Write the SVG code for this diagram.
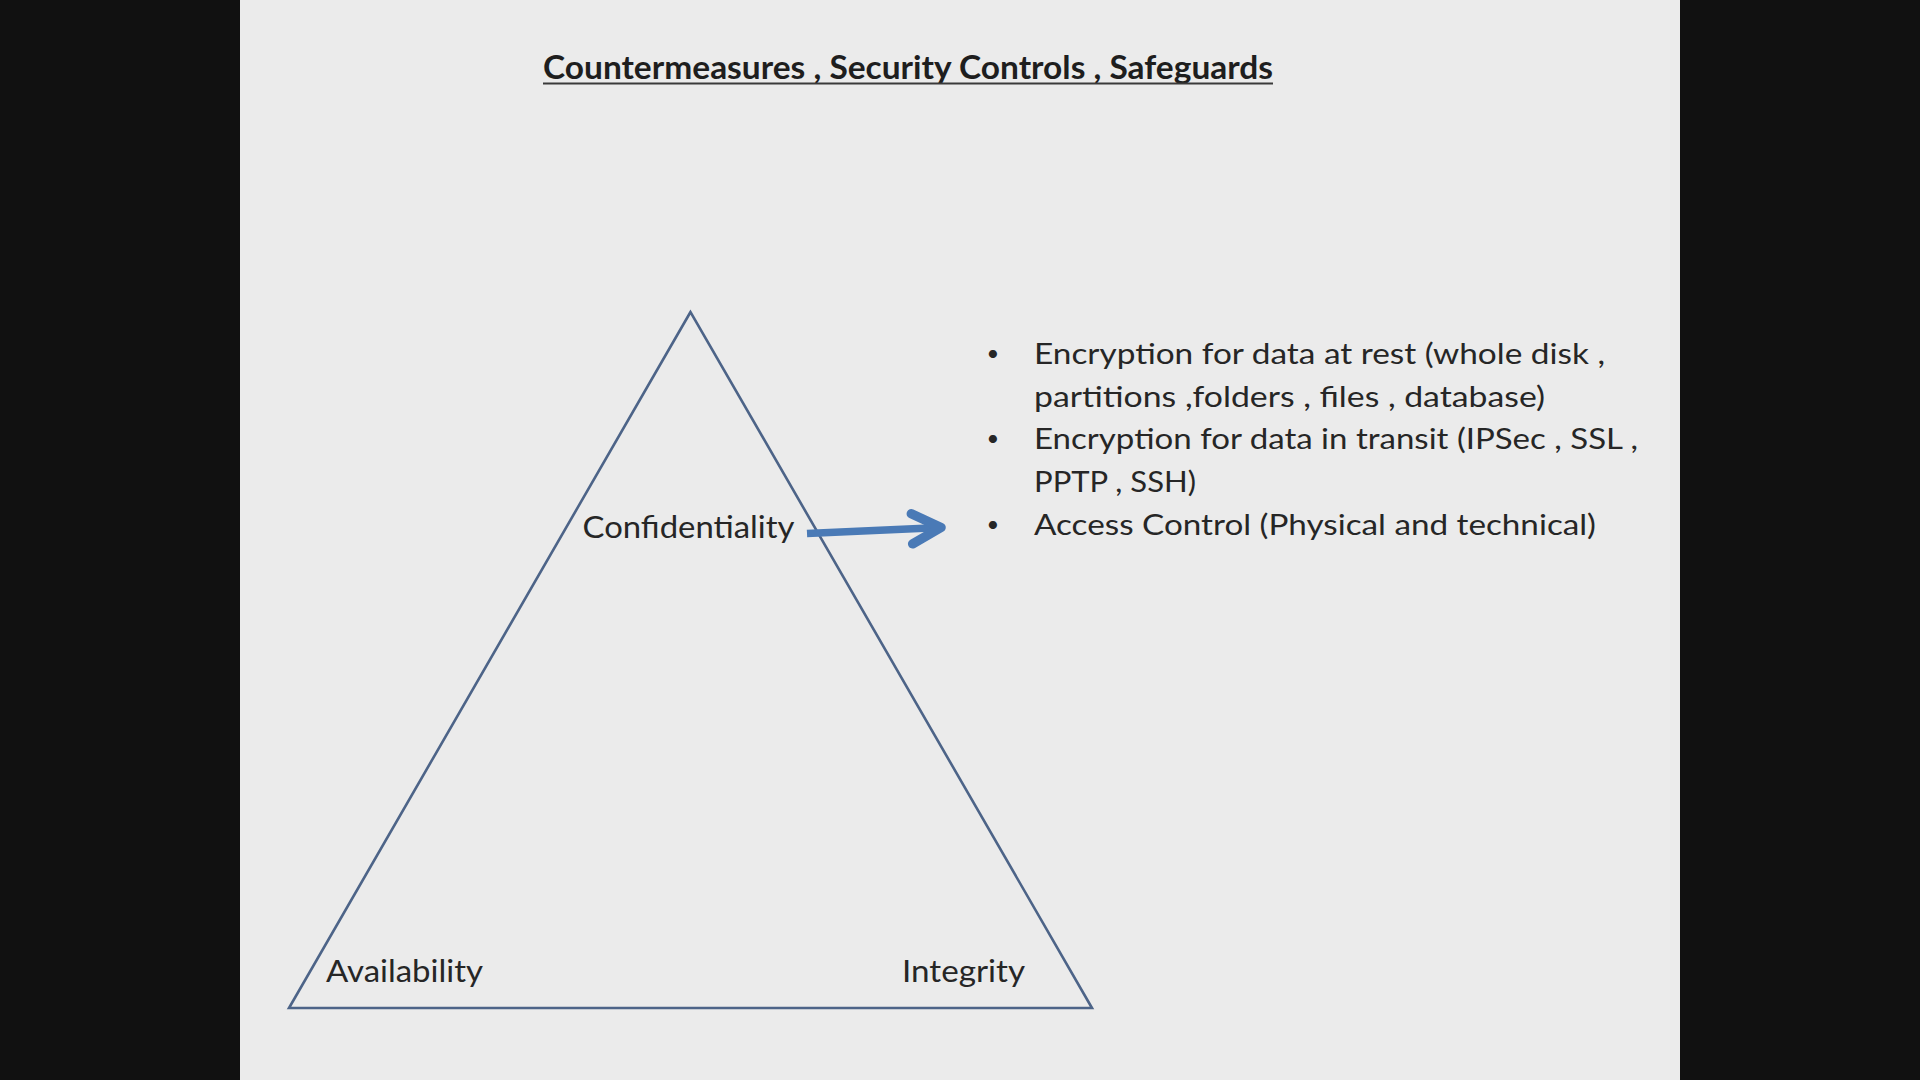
<svg xmlns="http://www.w3.org/2000/svg" width="1920" height="1080" viewBox="0 0 1920 1080">
  <defs>
    <style>
      .title { font-family: Lato, "Liberation Sans", sans-serif; font-weight: bold; font-size: 32.5px; fill: #1e1e1e; }
      .label { font-family: Lato, "Liberation Sans", sans-serif; font-size: 31.5px; fill: #262626; }
      .body { font-family: Lato, "Liberation Sans", sans-serif; font-size: 29px; fill: #262626; }
      .bullet { font-family: Lato, "Liberation Sans", sans-serif; font-size: 22px; fill: #262626; text-anchor: middle; }
      .tri { fill: none; stroke: #4d6488; stroke-width: 2.6; stroke-linejoin: miter; }
      .conn { fill: none; stroke: #4a7ab6; stroke-width: 7.5; }
    </style>
    <marker id="openArrow" markerUnits="userSpaceOnUse" markerWidth="60" markerHeight="60" viewBox="-40 -30 50 60" refX="0" refY="0" orient="auto">
      <path d="M -29 -15 L 0 0 L -29 15" fill="none" stroke="#4a7ab6" stroke-width="9.5" stroke-linecap="round" stroke-linejoin="round"/>
    </marker>
  </defs>

  <!-- backdrop -->
  <rect x="0" y="0" width="1920" height="1080" fill="#111111"/>
  <rect x="240" y="0" width="1440" height="1080" fill="#ebebeb"/>

  <!-- title -->
  <g id="title">
    <text class="title" x="543" y="78.5" textLength="730" lengthAdjust="spacingAndGlyphs">Countermeasures , Security Controls , Safeguards</text>
    <line x1="543" y1="83.5" x2="1273" y2="83.5" stroke="#3a3a3a" stroke-width="2.2"/>
  </g>

  <!-- CIA triangle -->
  <g id="triangle">
    <polygon class="tri" points="690.5,312 289,1008 1092,1008"/>
  </g>

  <g id="node-confidentiality">
    <text class="label" x="582.5" y="538" textLength="212" lengthAdjust="spacingAndGlyphs">Confidentiality</text>
  </g>
  <g id="node-availability">
    <text class="label" x="326" y="982" textLength="157" lengthAdjust="spacingAndGlyphs">Availability</text>
  </g>
  <g id="node-integrity">
    <text class="label" x="902" y="982" textLength="123" lengthAdjust="spacingAndGlyphs">Integrity</text>
  </g>

  <!-- controls list -->
  <g id="node-controls">
    <text class="bullet" x="993" y="360.5">•</text>
    <text class="body" x="1034" y="364" textLength="571" lengthAdjust="spacingAndGlyphs">Encryption for data at rest (whole disk ,</text>
    <text class="body" x="1034" y="406.5" textLength="511" lengthAdjust="spacingAndGlyphs">partitions ,folders , files , database)</text>
    <text class="bullet" x="993" y="445.5">•</text>
    <text class="body" x="1034" y="449" textLength="604" lengthAdjust="spacingAndGlyphs">Encryption for data in transit (IPSec , SSL ,</text>
    <text class="body" x="1034" y="492" textLength="162" lengthAdjust="spacingAndGlyphs">PPTP , SSH)</text>
    <text class="bullet" x="993" y="531.5">•</text>
    <text class="body" x="1034" y="535" textLength="562" lengthAdjust="spacingAndGlyphs">Access Control (Physical and technical)</text>
  </g>

  <!-- connectors -->
  <g id="connectors">
    <line class="conn" x1="807" y1="533.5" x2="941" y2="527.5" marker-end="url(#openArrow)"/>
  </g>
</svg>
